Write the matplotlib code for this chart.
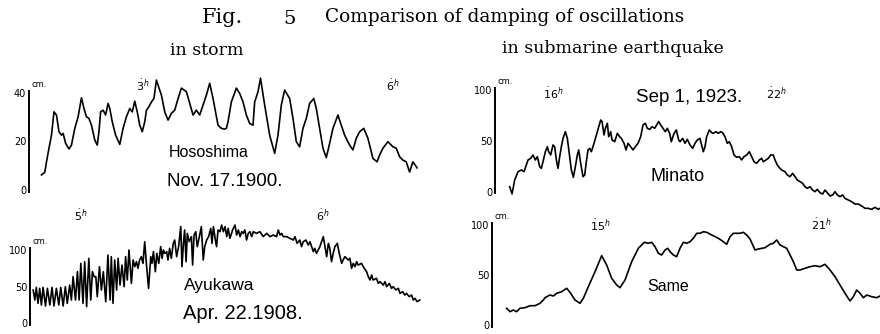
import matplotlib
matplotlib.use('Agg')
import matplotlib.pyplot as plt

# Hososhima, Nov. 17 1900 (storm) -- time in hours, height in cm
t_hoso = [1.78, 1.82, 1.84, 1.87, 1.90, 1.93, 1.96, 1.99, 2.02, 2.04, 2.07, 2.11, 2.14, 2.18, 2.22,
          2.26, 2.29, 2.32, 2.35, 2.38, 2.42, 2.45, 2.47, 2.49, 2.52, 2.55, 2.58, 2.60, 2.63, 2.67,
          2.72, 2.76, 2.80, 2.84, 2.87, 2.90, 2.93, 2.96, 2.99, 3.02, 3.04, 3.07, 3.10, 3.13, 3.16,
          3.22, 3.26, 3.30, 3.34, 3.38, 3.42, 3.46, 3.52, 3.56, 3.60, 3.64, 3.68, 3.72, 3.76, 3.80,
          3.84, 3.90, 3.94, 3.98, 4.00, 4.02, 4.06, 4.12, 4.16, 4.20, 4.24, 4.28, 4.32, 4.34, 4.38,
          4.41, 4.46, 4.52, 4.58, 4.62, 4.66, 4.70, 4.76, 4.80, 4.84, 4.88, 4.92, 4.96, 5.00, 5.05,
          5.08, 5.12, 5.16, 5.20, 5.24, 5.28, 5.34, 5.38, 5.42, 5.48, 5.52, 5.56, 5.60, 5.65, 5.70,
          5.76, 5.81, 5.84, 5.88, 5.94, 6.00, 6.04, 6.08, 6.12, 6.16, 6.20, 6.24, 6.29]
h_hoso = [6.2, 7.3, 11.6, 17.2, 22.6, 32.2, 30.9, 24.0, 22.6, 23.3, 19.2, 16.9, 18.5, 25.4, 30.2,
          38.0, 33.6, 30.2, 29.5, 26.7, 20.6, 18.5, 24.0, 32.2, 32.9, 30.9, 35.7, 33.6, 28.1, 22.6,
          18.8, 25.4, 30.2, 33.6, 32.2, 36.6, 32.2, 26.7, 24.0, 28.1, 32.9, 34.3, 36.3, 37.7, 45.3,
          39.1, 32.2, 28.8, 31.6, 32.9, 37.7, 42.0, 40.5, 35.7, 30.9, 32.9, 30.9, 35.0, 39.1, 44.0,
          37.7, 26.7, 25.4, 25.1, 25.4, 28.1, 36.3, 42.0, 39.8, 36.3, 30.9, 27.4, 26.7, 36.3, 40.5,
          46.1, 35.0, 22.6, 15.1, 22.6, 35.0, 41.2, 37.7, 29.5, 19.9, 17.8, 25.4, 29.5, 35.7, 37.7,
          33.6, 25.4, 17.2, 13.3, 19.2, 25.4, 30.9, 26.7, 22.6, 18.5, 16.5, 21.3, 24.0, 25.4, 21.3,
          13.0, 11.6, 14.4, 17.2, 19.9, 17.8, 17.2, 13.7, 12.3, 11.6, 7.4, 11.6, 9.1]

# Ayukawa, Apr. 22 1908 (storm)
t_ayu = [4.802, 4.809, 4.815, 4.822, 4.829, 4.836, 4.843, 4.853, 4.861, 4.871, 4.880, 4.888, 4.898,
         4.908, 4.916, 4.926, 4.935, 4.943, 4.953, 4.960, 4.967, 4.977, 4.985, 4.992, 4.999, 5.008,
         5.015, 5.023, 5.032, 5.040, 5.047, 5.054, 5.061, 5.067, 5.076, 5.084, 5.092, 5.102, 5.111,
         5.120, 5.125, 5.132, 5.139, 5.147, 5.153, 5.161, 5.169, 5.178, 5.184, 5.191, 5.198, 5.208,
         5.215, 5.222, 5.229, 5.235, 5.242, 5.249, 5.256, 5.263, 5.271, 5.279, 5.288, 5.293, 5.299,
         5.307, 5.313, 5.321, 5.329, 5.335, 5.340, 5.346, 5.354, 5.359, 5.366, 5.373, 5.381, 5.387,
         5.395, 5.403, 5.412, 5.417, 5.423, 5.428, 5.434, 5.439, 5.447, 5.456, 5.461, 5.467, 5.474,
         5.480, 5.489, 5.497, 5.505, 5.511, 5.519, 5.527, 5.536, 5.541, 5.547, 5.555, 5.560, 5.566,
         5.574, 5.581, 5.588, 5.595, 5.602, 5.608, 5.615, 5.622, 5.626, 5.636, 5.643, 5.650, 5.657,
         5.664, 5.670, 5.677, 5.684, 5.691, 5.698, 5.705, 5.712, 5.725, 5.739, 5.753, 5.767, 5.781,
         5.794, 5.808, 5.815, 5.822, 5.829, 5.836, 5.849, 5.863, 5.877, 5.884, 5.893, 5.904, 5.911,
         5.918, 5.929, 5.939, 5.946, 5.960, 5.966, 5.973, 5.980, 5.987, 5.994, 6.001, 6.008, 6.015,
         6.022, 6.028, 6.035, 6.042, 6.049, 6.059, 6.067, 6.077, 6.083, 6.090, 6.104, 6.111, 6.118,
         6.125, 6.132, 6.139, 6.145, 6.159, 6.166, 6.180, 6.187, 6.194, 6.201, 6.207, 6.221, 6.228,
         6.235, 6.249, 6.256, 6.263, 6.274, 6.283, 6.290, 6.301, 6.311, 6.318, 6.329, 6.338, 6.345,
         6.356, 6.366, 6.373, 6.380, 6.389, 6.400]
h_ayu = [45.2, 31.5, 48.8, 26.9, 47.5, 24.6, 48.8, 23.3, 47.5, 24.6, 48.8, 23.3, 47.5, 24.6, 48.8,
         23.3, 49.8, 26.9, 52.0, 31.5, 63.5, 31.5, 70.3, 31.5, 81.7, 26.9, 84.0, 22.4, 88.6, 31.5,
         70.3, 63.5, 63.5, 36.1, 77.2, 45.2, 70.3, 29.2, 93.1, 31.5, 90.9, 26.9, 86.3, 45.2, 88.6,
         52.0, 79.4, 49.8, 90.9, 58.9, 100.0, 54.3, 86.3, 77.2, 84.0, 74.9, 86.3, 90.9, 81.7, 111.4,
         77.2, 47.5, 90.9, 81.7, 97.7, 70.3, 95.4, 81.7, 104.6, 88.6, 100.0, 95.4, 97.7, 86.3, 102.3,
         88.6, 109.1, 113.7, 90.9, 104.6, 132.0, 77.2, 109.1, 127.4, 84.0, 122.8, 111.4, 118.3, 79.4,
         120.5, 125.1, 104.6, 118.3, 132.0, 86.3, 104.6, 113.7, 118.3, 129.7, 109.1, 132.0, 113.7,
         104.6, 127.4,
         125.1, 134.2, 125.1, 132.0, 118.3, 129.7, 116.0, 122.8, 127.4, 134.2,
         120.5, 127.4, 118.3, 125.1, 122.8, 127.4, 113.7, 122.8, 125.1, 118.3,
         125.1, 122.8, 125.1, 118.3, 122.8, 118.3, 120.5, 118.3, 127.4, 120.5,
         122.8, 118.3, 118.3, 116.0, 113.7, 118.3, 109.1, 113.7, 104.6, 111.4,
         113.7, 106.8, 111.4, 97.7, 102.3, 95.4, 100.0, 104.6, 111.4, 118.3,
         104.6, 90.9, 109.1, 102.3, 84.0, 95.4, 104.6, 109.1, 95.4, 81.7,
         86.3, 90.9, 86.3, 88.6, 74.9, 81.7, 77.2, 84.0, 79.4, 81.7,
         77.2, 70.3, 63.5, 58.9, 65.7, 58.9, 61.2, 54.3, 56.6, 52.0,
         56.6, 49.8, 54.3, 47.5, 49.8, 45.2, 47.5, 40.6, 42.9, 38.3,
         40.6, 36.1, 38.3, 31.5, 33.8, 29.2, 31.5]

# Minato, Sep. 1 1923 (submarine earthquake)
t_min = [14.838, 14.901, 14.972, 15.062, 15.151, 15.223, 15.285, 15.330, 15.401, 15.464, 15.526,
         15.580, 15.643, 15.687, 15.732, 15.795, 15.848, 15.884, 15.938, 16.000, 16.045, 16.090,
         16.134, 16.179, 16.224, 16.269, 16.331, 16.385, 16.429, 16.492, 16.546, 16.599, 16.653,
         16.689, 16.742, 16.805, 16.850, 16.894, 16.939, 16.984, 17.028, 17.100, 17.163, 17.225,
         17.279, 17.315, 17.368, 17.404, 17.458, 17.493, 17.547, 17.583, 17.654, 17.726, 17.788,
         17.833, 17.905, 17.958, 18.012, 18.083, 18.146, 18.208, 18.280, 18.352, 18.414, 18.477,
         18.530, 18.593, 18.655, 18.727, 18.781, 18.834, 18.888, 18.951, 19.013, 19.067, 19.129,
         19.174, 19.246, 19.308, 19.371,
         19.406, 19.478, 19.540, 19.603, 19.674, 19.746, 19.808, 19.871, 19.942, 19.987, 20.032,
         20.077, 20.121, 20.193, 20.255, 20.300, 20.372, 20.434, 20.497, 20.550, 20.613, 20.675,
         20.729, 20.792, 20.854, 20.926, 20.997, 21.060, 21.122, 21.194, 21.266, 21.328, 21.391,
         21.462, 21.534, 21.596, 21.641, 21.713, 21.775, 21.838, 21.909, 21.954, 22.016, 22.088,
         22.133, 22.222, 22.285, 22.356, 22.428, 22.490, 22.553, 22.624, 22.696, 22.759, 22.821,
         22.893, 22.964, 23.027, 23.089, 23.161, 23.232, 23.295, 23.357, 23.429, 23.501, 23.563,
         23.626, 23.697, 23.769, 23.831, 23.921, 24.010, 24.100, 24.189, 24.278, 24.368, 24.457,
         24.547, 24.636, 24.725, 24.770]
h_min = [5.2, -1.9, 11.8, 19.9, 21.6, 19.9, 26.5, 31.4, 33.0, 36.3, 31.4,
         34.6, 24.8, 23.2, 29.7, 39.5, 44.4, 39.5, 36.3, 46.1, 44.4, 31.4,
         23.2, 34.6, 44.4, 52.6, 59.1, 52.6, 39.5, 21.6, 14.4, 24.8, 36.3,
         41.2, 28.1, 15.0, 16.7, 29.7, 41.2, 42.8, 39.5, 47.7, 55.9, 64.0,
         70.6, 69.0, 55.9, 62.4, 67.3, 54.2, 59.1, 51.0, 49.3, 57.5, 54.2,
         52.6, 47.7, 41.2, 47.7, 44.4, 41.2, 44.4, 47.7, 54.2, 65.7, 67.3,
         62.4, 61.4, 64.0, 62.4, 65.7, 69.0, 65.7, 62.4, 59.1, 62.4, 57.5,
         49.3, 57.5, 60.8, 51.0,
         49.3, 52.6, 47.7, 51.6, 46.1, 42.8, 47.7, 51.0, 52.6, 46.1, 39.5,
         44.4, 54.2, 60.8, 58.2, 57.5, 59.1, 57.5, 59.1, 58.2, 54.2, 47.7,
         49.3, 44.4, 36.3, 34.0, 34.6, 31.4, 34.6, 36.3, 39.5, 34.6, 29.7,
         28.1, 31.4, 33.0, 29.7, 31.4, 33.0, 36.3, 36.3, 31.4, 26.5, 23.2,
         21.6, 19.9, 16.7, 15.0, 18.3, 15.0, 11.8, 10.1, 8.5, 5.2, 3.6,
         5.2, 1.9, 0.3, 2.6, -0.7, -2.0, 1.9, -0.7, -3.9, -2.9, 0.3,
         -2.9, -4.6, -2.9, -6.2, -7.8, -9.5, -11.8, -11.8, -13.7, -16.0, -16.0,
         -17.0, -15.0, -17.0, -16.0]

# Same (submarine earthquake)
t_same = [12.473, 12.564, 12.654, 12.744, 12.834, 12.970, 13.105, 13.240, 13.376, 13.466, 13.511,
          13.646, 13.737, 13.827, 13.962, 14.098, 14.188, 14.323, 14.459, 14.549, 14.684, 14.865,
          15.045, 15.180, 15.316, 15.451, 15.541, 15.677, 15.857, 16.038, 16.200, 16.308, 16.399,
          16.489, 16.579, 16.669, 16.759, 16.832, 16.895, 16.985, 17.075, 17.165, 17.256, 17.346,
          17.436, 17.526, 17.617, 17.707, 17.797, 17.887, 18.023, 18.203, 18.338, 18.429, 18.519,
          18.609, 18.699, 18.789, 18.880, 18.970, 19.060, 19.196, 19.286, 19.466, 19.602, 19.692,
          19.782, 19.872, 19.963, 20.053, 20.143, 20.233, 20.324, 20.414, 20.549, 20.684, 20.820,
          20.955, 21.090, 21.226, 21.361, 21.496, 21.632, 21.767, 21.857, 21.948, 22.038, 22.128,
          22.218, 22.354, 22.489, 22.579]
h_same = [16.7, 13.3, 15.0, 13.3, 16.7, 17.3, 19.3, 19.3, 21.7, 25.0, 27.3,
          30.0, 29.0, 31.7, 33.3, 36.7, 32.7, 25.0, 21.7, 26.7, 38.3, 53.3,
          69.3, 60.0, 46.7, 40.0, 37.3, 45.0, 63.3, 76.7, 82.7, 81.7, 82.7,
          78.3, 71.7, 70.0, 75.0, 76.7, 73.3, 70.0, 68.3, 76.7, 82.7, 81.7,
          83.3, 86.7, 91.7, 91.7, 93.3, 92.7, 90.0, 86.7, 83.3, 80.7, 88.3,
          91.7, 91.7, 91.7, 92.7, 90.0, 86.0, 75.0, 76.0, 77.3, 80.7, 81.7,
          85.0, 80.0, 78.3, 76.7, 70.0, 63.3, 55.0, 55.0, 56.7, 58.3, 59.3,
          58.3, 60.7, 55.0, 48.3, 40.0, 31.7, 24.0, 28.3, 35.0, 31.7, 27.3,
          30.0, 28.3, 27.3, 29.0]

hand = ['Liberation Sans', 'DejaVu Sans']
serif = ['DejaVu Serif']

fig = plt.figure(figsize=(8.8, 3.34), dpi=100)


def panel(rect, t, h, xlim, ylim, spine, ticks, labels):
    ax = fig.add_axes(rect)
    ax.patch.set_visible(False)
    ax.plot(t, h, color='black', lw=1.2)
    ax.set_xlim(xlim)
    ax.set_ylim(ylim)
    for s in ['top', 'right', 'bottom']:
        ax.spines[s].set_visible(False)
    ax.spines['left'].set_bounds(spine[0], spine[1])
    ax.spines['left'].set_linewidth(1.4)
    ax.set_xticks([])
    ax.set_yticks(ticks)
    ax.set_yticklabels(labels)
    ax.tick_params(axis='y', length=0, pad=2, labelsize=7)
    ax.annotate('cm.', xy=(xlim[0], ticks[-1]), xytext=(2, 3), textcoords='offset points',
                fontsize=6, va='bottom')
    return ax


ax1 = panel([0.03295, 0.4204, 0.4443, 0.3521], t_hoso, h_hoso, (1.63, 6.325), (-1.5, 47),
            (-1, 41), [0, 20, 40], ['0', '20', '40'])
ax1.text(3.0, 43.3, r'$\dot{3}^{h}$', fontsize=8, ha='center', va='center')
ax1.text(6.0, 43.3, r'$\dot{6}^{h}$', fontsize=8, ha='center', va='center')
ax1.text(3.79, 15.3, 'Hososhima', family=hand, fontsize=11.5, ha='center', va='center')
ax1.text(3.98, 3.3, 'Nov. 17.1900.', family=hand, fontsize=13.5, ha='center', va='center')

ax2 = panel([0.0341, 0.02395, 0.4489, 0.3473], t_ayu, h_ayu, (4.789, 6.4215), (-4.1, 154.8),
            (-3, 103), [0, 50, 100], ['0', '50', '100'])
ax2.text(5.0, 148, r'$\dot{5}^{h}$', fontsize=8, ha='center', va='center')
ax2.text(6.0, 148, r'$\dot{6}^{h}$', fontsize=8, ha='center', va='center')
ax2.text(5.57, 52, 'Ayukawa', family=hand, fontsize=12.5, ha='center', va='center')
ax2.text(5.67, 13.7, 'Apr. 22.1908.', family=hand, fontsize=14.5, ha='center', va='center')

ax3 = panel([0.5625, 0.3653, 0.4375, 0.4102], t_min, h_min, (14.444, 24.771), (-19.6, 114.7),
            (-1, 102), [0, 50, 100], ['0', '50', '100'])
ax3.text(16, 97, r'$\dot{1}6^{h}$', fontsize=8, ha='center', va='center')
ax3.text(22, 97, r'$\dot{2}2^{h}$', fontsize=8, ha='center', va='center')
ax3.text(19.65, 93.1, 'Sep 1, 1923.', family=hand, fontsize=13.5, ha='center', va='center')
ax3.text(19.35, 14.7, 'Minato', family=hand, fontsize=13, ha='center', va='center')

ax4 = panel([0.5591, 0.01497, 0.4409, 0.3503], t_same, h_same, (12.077, 22.578), (-4, 113),
            (-2, 102), [0, 50, 100], ['0', '50', '100'])
ax4.text(15, 100, r'$\dot{1}5^{h}$', fontsize=8, ha='center', va='center')
ax4.text(21, 101, r'$\dot{2}1^{h}$', fontsize=8, ha='center', va='center')
ax4.text(16.84, 38, 'Same', family=hand, fontsize=11.5, ha='center', va='center')

fig.text(0.2534, 0.949, 'Fig.', family=serif, fontsize=15, ha='center', va='center')
fig.text(0.3295, 0.943, '5', family=serif, fontsize=14, ha='center', va='center')
fig.text(0.3693, 0.949, 'Comparison of damping of oscillations', family=serif, fontsize=13.3,
         ha='left', va='center')
fig.text(0.2352, 0.850, 'in storm', family=serif, fontsize=12.5, ha='center', va='center')
fig.text(0.6966, 0.856, 'in submarine earthquake', family=serif, fontsize=12.5,
         ha='center', va='center')

fig.savefig('out.png', dpi=100)
